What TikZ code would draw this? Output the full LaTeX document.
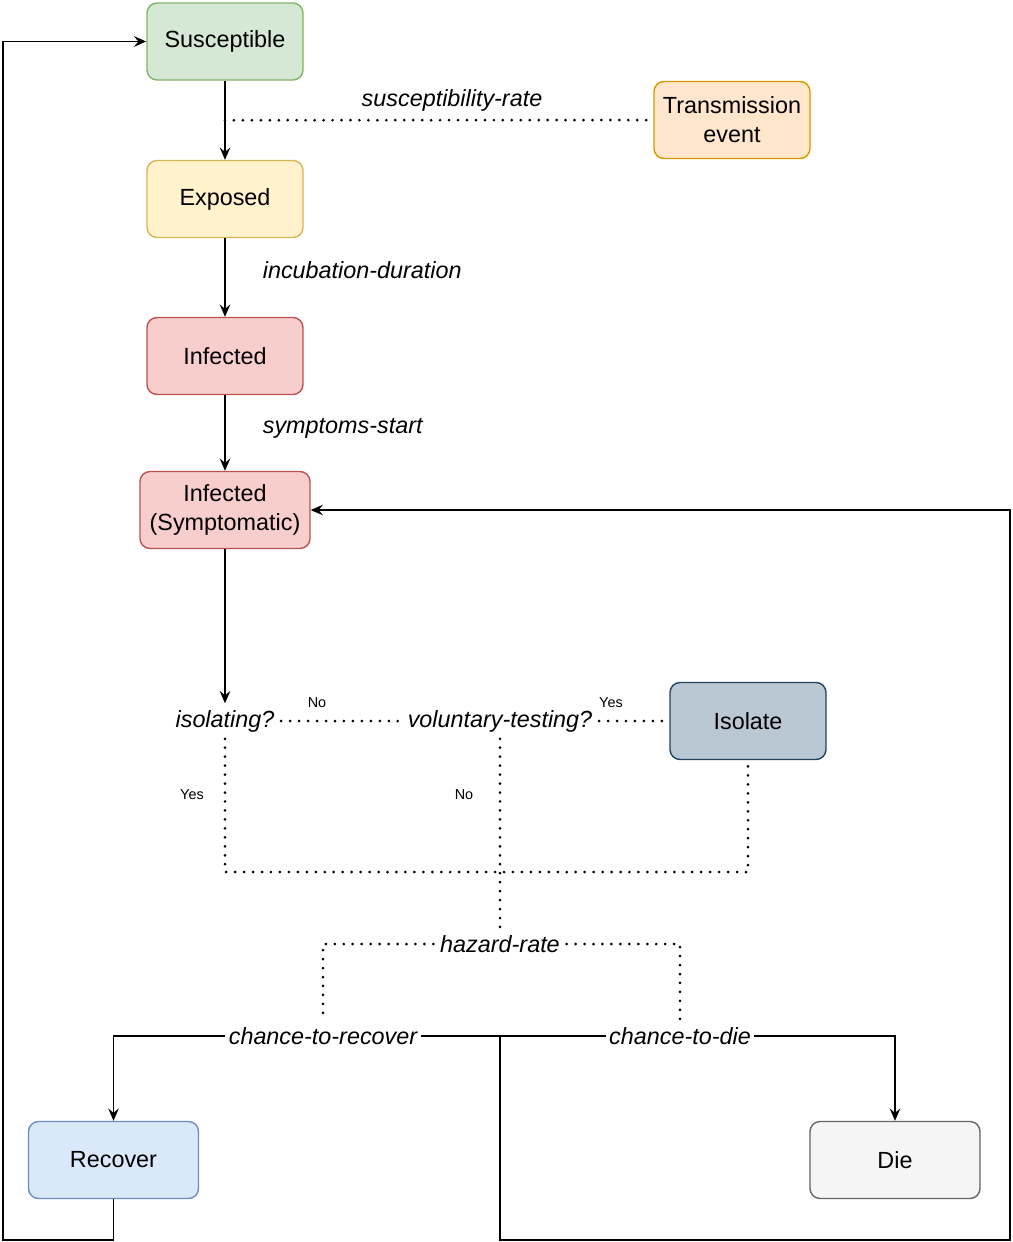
\documentclass[tikz,border=0pt]{standalone}
\usepackage{fontspec}
\setmainfont{Liberation Sans}
\usetikzlibrary{shapes, arrows.meta, positioning}
\definecolor{sfill}{HTML}{D5E8D4}\definecolor{sline}{HTML}{82B366}
\definecolor{tfill}{HTML}{FFE6CC}\definecolor{tline}{HTML}{D79B00}
\definecolor{efill}{HTML}{FFF2CC}\definecolor{eline}{HTML}{D6B656}
\definecolor{ifill}{HTML}{F8CECC}\definecolor{iline}{HTML}{B85450}
\definecolor{qfill}{HTML}{BAC8D3}\definecolor{qline}{HTML}{23445D}
\definecolor{rfill}{HTML}{DAE8FC}\definecolor{rline}{HTML}{6C8EBF}
\definecolor{dfill}{HTML}{F5F5F5}\definecolor{dline}{HTML}{666666}
\tikzstyle{block} = [draw, rectangle, rounded corners=0.2cm, line width=0.8pt, minimum width=3.12cm, minimum height=1.54cm, align=center, font=\fontsize{13.3}{16.4}\selectfont]
\tikzstyle{ratelabel} = [inner sep=3.5pt, font=\fontsize{13.3}{16.4}\selectfont\itshape]
\tikzstyle{answer} = [inner sep=1pt, font=\fontsize{8.2}{10}\selectfont]
\tikzstyle{dots} = [line width=1.7pt, line cap=round, dash pattern=on 0pt off 5.1pt]

\begin{document}
\begin{tikzpicture}[>={Stealth[length=7pt, width=6pt, inset=2.5pt]}, line width=0.8pt]
    \useasboundingbox (0,0) rectangle (20.26,-24.84);
    \node[block, fill=sfill, draw=sline] (s) at (4.5,-0.83) {Susceptible};
    \node[block, fill=efill, draw=eline, below of=s, node distance=3.15cm] (e) {Exposed};
    \node[block, fill=ifill, draw=iline, below of=e, node distance=3.14cm] (i) {Infected};
    \node[block, fill=ifill, draw=iline, minimum width=3.4cm, below of=i, node distance=3.08cm] (is) {Infected\\(Symptomatic)};
    \node[block, fill=tfill, draw=tline] (t) at (14.64,-2.4) {Transmission\\event};
    \node[ratelabel, below of=is, node distance=4.22cm] (iso) {isolating?};
    \node[ratelabel, right of=iso, node distance=5.5cm] (vol) {voluntary-testing?};
    \node[block, fill=qfill, draw=qline, right of=vol, node distance=4.96cm] (q) {Isolate};
    \node[ratelabel, below of=vol, node distance=4.46cm] (haz) {hazard-rate};
    \node[ratelabel, inner xsep=1.5pt] (ctr) at (6.46,-20.72) {chance-to-recover};
    \node[ratelabel, inner xsep=1.5pt] (ctd) at (13.6,-20.72) {chance-to-die};
    \node[block, fill=rfill, draw=rline, minimum width=3.4cm] (r) at (2.27,-23.2) {Recover};
    \node[block, fill=dfill, draw=dline, minimum width=3.4cm] (d) at (17.9,-23.2) {Die};
    % answers
    \node[answer] (isono) at (6.34,-14.06) {No};
    \node[answer] (volyes) at (12.22,-14.06) {Yes};
    \node[answer] (isoyes) at (3.84,-15.9) {Yes};
    \node[answer] (volno) at (9.28,-15.9) {No};
    \coordinate (join) at (10,-17.44);
    \coordinate (split) at (10,-20.72);
    \coordinate (loopL) at (0.06,-24.8);
    \coordinate (loopR) at (20.2,-24.8);
    % main chain
    \draw[->] (s) -- coordinate[midway] (sm) (e);
    \draw[->] (e) -- node[ratelabel, midway, anchor=west, xshift=0.62cm, yshift=0.15cm] {incubation-duration} (i);
    \draw[->] (i) -- node[ratelabel, midway, anchor=west, xshift=0.62cm, yshift=0.1cm] {symptoms-start} (is);
    \draw[->] (is) -- (iso);
    \draw[dots] (sm) -- node[ratelabel, pos=0.53, above, yshift=0.02cm] {susceptibility-rate} (t);
    % decisions
    \draw[dots] (iso) -- (vol);
    \draw[dots] (vol) -- (q);
    \draw[dots] (iso.south) |- (join) -| (q.south);
    \draw[dots] (vol.south) -- (join) -- (haz.north);
    \draw[dots] (haz.west) -| (ctr.north);
    \draw[dots] (haz.east) -| (ctd.north);
    % outcomes
    \draw[->] (ctr.west) -| (r.north);
    \draw (ctr.east) -- (ctd.west);
    \draw[->] (ctd.east) -| (d.north);
    \draw[->] (r.south) |- (loopL) |- (s.west);
    \draw[->] (split) |- (loopR) |- (is.east);
\end{tikzpicture}
\end{document}
